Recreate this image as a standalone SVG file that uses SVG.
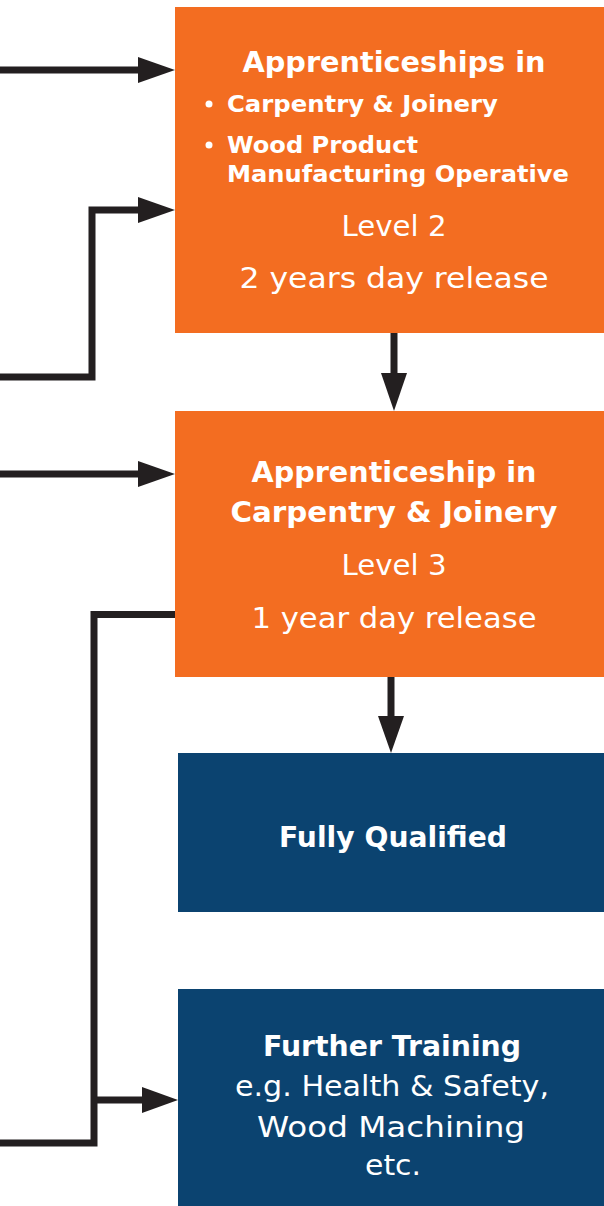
<svg xmlns="http://www.w3.org/2000/svg" width="604" height="1206" viewBox="0 0 604 1206">
<style>
.orange{fill:#F36D21}
.navy{fill:#0B4370}
.t{font-family:"DejaVu Sans","Noto Sans",sans-serif;fill:#ffffff;text-anchor:middle}
.b{font-weight:bold}
.r{font-weight:normal}
.tl{text-anchor:start}
.line{fill:none;stroke:#231F20;stroke-width:7;stroke-linejoin:miter;stroke-linecap:butt}
.head{fill:#231F20}
</style>
<rect width="604" height="1206" fill="#ffffff"/>
<g id="connectors">
  <path class="line" d="M0,70 H140"/>
  <polygon class="head" points="138,57 175,70 138,83"/>
  <path class="line" d="M0,377 H92 V210 H140"/>
  <polygon class="head" points="138,197 175,210 138,223"/>
  <path class="line" d="M394,333 V375"/>
  <polygon class="head" points="381,373 407,373 394,411"/>
  <path class="line" d="M0,474 H140"/>
  <polygon class="head" points="138,461 175,474 138,487"/>
  <path class="line" d="M175,614.5 H94 V1143 H0"/>
  <path class="line" d="M94,1100 H144"/>
  <polygon class="head" points="142,1087 178,1100 142,1113"/>
  <path class="line" d="M391,677 V718"/>
  <polygon class="head" points="378,716 404,716 391,753"/>
</g>
<g id="node-level2">
  <rect class="orange" x="175" y="7" width="429" height="326"/>
  <text class="t b" x="394" y="72" font-size="28" textLength="303" lengthAdjust="spacingAndGlyphs">Apprenticeships in</text>
  <circle cx="209" cy="104" r="3.5" fill="#ffffff"/>
  <text class="t b tl" x="227" y="112" font-size="22.5" textLength="271" lengthAdjust="spacingAndGlyphs">Carpentry &amp; Joinery</text>
  <circle cx="209" cy="145" r="3.5" fill="#ffffff"/>
  <text class="t b tl" x="227" y="152.5" font-size="22.5" textLength="191" lengthAdjust="spacingAndGlyphs">Wood Product</text>
  <text class="t b tl" x="227" y="181.5" font-size="22.5" textLength="342" lengthAdjust="spacingAndGlyphs">Manufacturing Operative</text>
  <text class="t r" x="394" y="235.5" font-size="28" textLength="105" lengthAdjust="spacingAndGlyphs">Level 2</text>
  <text class="t r" x="394" y="288" font-size="28" textLength="309" lengthAdjust="spacingAndGlyphs">2 years day release</text>
</g>
<g id="node-level3">
  <rect class="orange" x="175" y="411" width="429" height="266"/>
  <text class="t b" x="394" y="481.5" font-size="29" textLength="285" lengthAdjust="spacingAndGlyphs">Apprenticeship in</text>
  <text class="t b" x="394" y="521.5" font-size="29" textLength="327" lengthAdjust="spacingAndGlyphs">Carpentry &amp; Joinery</text>
  <text class="t r" x="394" y="575" font-size="28" textLength="105" lengthAdjust="spacingAndGlyphs">Level 3</text>
  <text class="t r" x="394" y="627.5" font-size="28" textLength="285" lengthAdjust="spacingAndGlyphs">1 year day release</text>
</g>
<g id="node-qualified">
  <rect class="navy" x="178" y="753" width="426" height="159"/>
  <text class="t b" x="393" y="847" font-size="29" textLength="228" lengthAdjust="spacingAndGlyphs">Fully Qualified</text>
</g>
<g id="node-further">
  <rect class="navy" x="178" y="989" width="426" height="217"/>
  <text class="t b" x="392" y="1056" font-size="28" textLength="258" lengthAdjust="spacingAndGlyphs">Further Training</text>
  <text class="t r" x="392" y="1096" font-size="28" textLength="314" lengthAdjust="spacingAndGlyphs">e.g. Health &amp; Safety,</text>
  <text class="t r" x="391" y="1136.5" font-size="28" textLength="268" lengthAdjust="spacingAndGlyphs">Wood Machining</text>
  <text class="t r" x="393" y="1175" font-size="28" textLength="56" lengthAdjust="spacingAndGlyphs">etc.</text>
</g>
</svg>
